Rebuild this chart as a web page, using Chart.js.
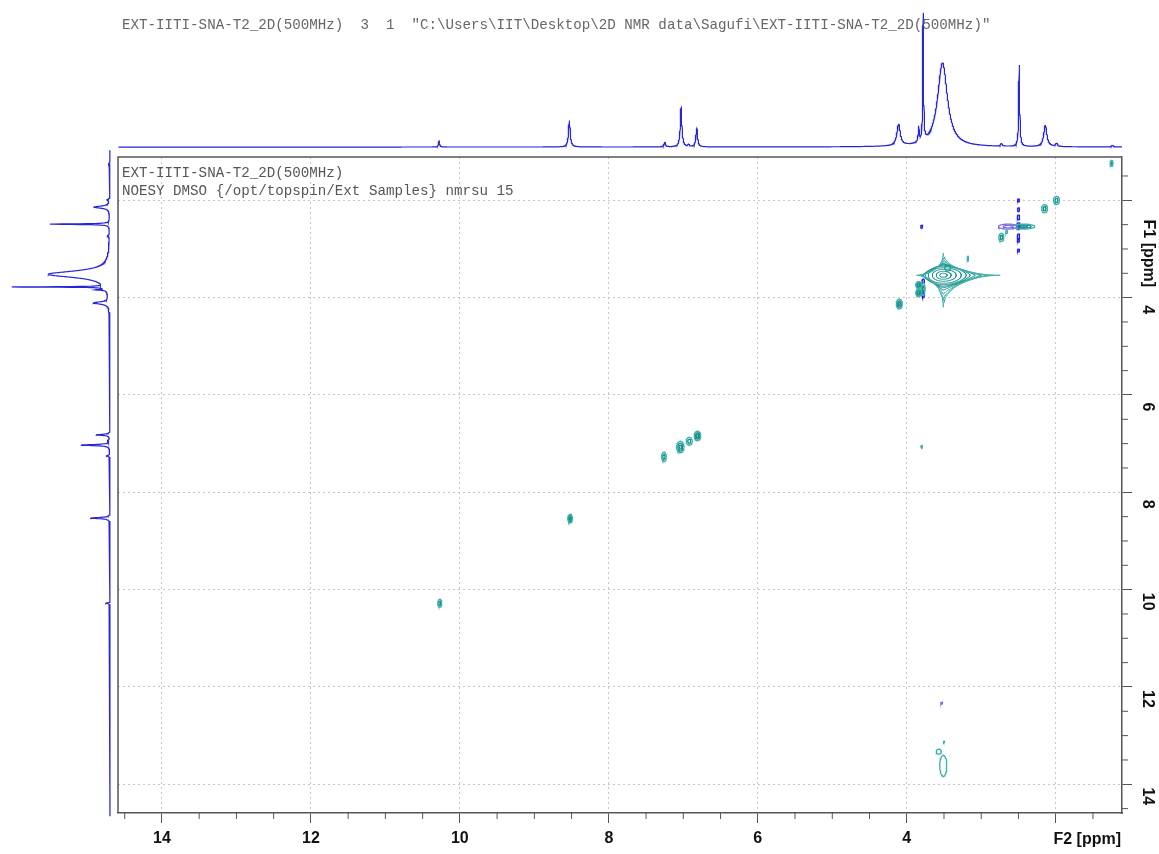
<!DOCTYPE html>
<html>
<head>
<meta charset="utf-8">
<script src="https://cdn.jsdelivr.net/npm/chart.js@4.4.1/dist/chart.umd.min.js"></script>
<style>
  body { margin: 0; background: #fff; }
  #wrap { position: relative; width: 1159px; height: 854px; overflow: hidden; }
  canvas { position: absolute; left: 0; top: 0; }
  .txt { position: absolute; font-family: "Liberation Mono", "DejaVu Sans Mono", monospace; font-size: 14.2px; white-space: pre; line-height: 18px; }
</style>
</head>
<body>
<div id="wrap">
  <canvas id="top" width="1159" height="160"></canvas>
  <canvas id="side" width="118" height="854"></canvas>
  <canvas id="main" width="1159" height="854"></canvas>
  <div class="txt" style="left:122px; top:16px; color:#666;">EXT-IITI-SNA-T2_2D(500MHz)  3  1  "C:\Users\IIT\Desktop\2D NMR data\Sagufi\EXT-IITI-SNA-T2_2D(500MHz)"</div>
  <div class="txt" style="left:122px; top:164px; color:#555;">EXT-IITI-SNA-T2_2D(500MHz)
NOESY DMSO {/opt/topspin/Ext Samples} nmrsu 15</div>
</div>
<script>
// axis range (ppm), same for F2 and F1
const axMin = 1.11;
const axMax = 14.59;
const majorStep = 2;
const minorStep = 0.5;

// 1D projection peaks: shift (ppm), height, half width (ppm)
const projShift  = [10.28, 8.53, 7.25, 7.03, 6.93, 6.82, 4.11, 3.84, 3.78, 3.52, 2.73, 2.49, 2.14, 1.99, 1.24];
const projHeight = [6, 27, 5, 40, 2.5, 19, 22, 15, 129, 86, 3, 83, 22, 3.5, 2];
const projWidth  = [0.009, 0.014, 0.012, 0.013, 0.01, 0.013, 0.027, 0.008, 0.006, 0.08, 0.012, 0.008, 0.025, 0.015, 0.01];

// 2D peaks: F2, F1, half sizes (ppm), number of contour rings, sign (1 pos, -1 neg blue, -2 neg purple)
const pkF2    = [1.25, 1.99, 2.15, 2.73, 2.66, 2.64, 2.43, 2.50, 2.50, 2.50, 2.50, 2.50, 2.50, 2.50, 3.80, 3.18, 3.45, 3.84, 3.84, 3.78, 3.78, 3.78, 4.10, 6.81, 6.92, 7.04, 7.26, 8.52, 10.27, 3.80, 3.53, 3.57, 3.51, 3.50];
const pkF1    = [1.24, 2.00, 2.17, 2.76, 2.65, 2.54, 2.54, 2.00, 2.19, 2.35, 2.53, 2.74, 2.83, 3.03, 2.54, 3.20, 3.39, 3.74, 3.90, 3.82, 3.66, 3.95, 4.13, 6.84, 6.95, 7.07, 7.27, 8.54, 10.28, 7.06, 12.33, 13.33, 13.62, 13.13];
const pkRx    = [0.020, 0.040, 0.040, 0.034, 0.013, 0.128, 0.148, 0.013, 0.013, 0.016, 0.020, 0.016, 0.013, 0.013, 0.013, 0.009, 0.040, 0.040, 0.040, 0.027, 0.016, 0.016, 0.040, 0.044, 0.040, 0.050, 0.031, 0.031, 0.027, 0.010, 0.013, 0.034, 0.047, 0.009];
const pkRy    = [0.062, 0.082, 0.082, 0.082, 0.031, 0.051, 0.051, 0.030, 0.040, 0.050, 0.070, 0.050, 0.030, 0.030, 0.031, 0.050, 0.062, 0.072, 0.072, 0.120, 0.040, 0.050, 0.100, 0.096, 0.080, 0.117, 0.096, 0.088, 0.082, 0.030, 0.020, 0.051, 0.216, 0.014];
const pkRings = [2, 2, 2, 2, 1, 2, 3, 1, 1, 1, 2, 1, 1, 1, 1, 1, 1, 3, 3, 2, 1, 1, 3, 3, 2, 3, 2, 3, 2, 1, 1, 1, 1, 1];
const pkSign  = [1, 1, 1, 1, 1, -2, 1, -1, -1, -1, -1, -1, -1, -1, -1, 1, 1, 1, 1, 1, -1, -1, 1, 1, 1, 1, 1, 1, 1, 1, -2, 1, 1, 1];

// water signal contours (outer to inner): extents in ppm and shape exponent
const waterF2 = 3.51;
const waterF1 = 3.54;
const wLeft  = [0.362, 0.336, 0.309, 0.295, 0.282, 0.268, 0.242, 0.201, 0.148, 0.094, 0.047];
const wRight = [0.765, 0.671, 0.591, 0.510, 0.430, 0.362, 0.309, 0.242, 0.174, 0.107, 0.054];
const wUp    = [0.452, 0.349, 0.287, 0.246, 0.226, 0.205, 0.185, 0.154, 0.123, 0.082, 0.041];
const wDown  = [0.657, 0.513, 0.390, 0.308, 0.257, 0.226, 0.195, 0.164, 0.123, 0.082, 0.041];
const wShape = [0.55, 0.65, 0.8, 0.95, 1.15, 1.4, 1.7, 2, 2, 2, 2];

const teal = '#3fb1ac';
const tealDark = '#17908b';
const blue = '#1c1cf0';
const purple = '#7d6ee0';
const specBlue = 'rgb(38,38,214)';

Chart.defaults.font.family = '"Liberation Sans", Arial, sans-serif';
Chart.defaults.animation = false;

function projection(lo, hi) {
  const xs = [];
  for (let v = lo; v <= hi; v += 0.002) xs.push(v);
  projShift.forEach(s => xs.push(s));
  xs.sort((a, b) => a - b);
  return xs.map(v => {
    let s = 0;
    for (let i = 0; i < projShift.length; i++) {
      const d = (v - projShift[i]) / projWidth[i];
      s += projHeight[i] / (1 + d * d);
    }
    return [v, s];
  });
}

function ellipse(c2, c1, rx, ry) {
  const pts = [];
  for (let i = 0; i <= 40; i++) {
    const t = i / 40 * 2 * Math.PI;
    pts.push({ x: c2 + rx * Math.cos(t), y: c1 + ry * Math.sin(t) });
  }
  return pts;
}

function starRing(k) {
  const pts = [];
  const e = 2 / wShape[k];
  for (let i = 0; i <= 160; i++) {
    const t = i / 160 * 2 * Math.PI;
    const c = Math.cos(t), s = Math.sin(t);
    const fx = Math.pow(Math.abs(c), e), fy = Math.pow(Math.abs(s), e);
    pts.push({
      x: c >= 0 ? waterF2 - wRight[k] * fx : waterF2 + wLeft[k] * fx,
      y: s >= 0 ? waterF1 + wDown[k] * fy : waterF1 - wUp[k] * fy
    });
  }
  return pts;
}

// ---- top projection ----
const topData = projection(axMin, axMax).map(p => ({ x: p[0], y: p[1] }));
new Chart(document.getElementById('top'), {
  type: 'scatter',
  data: { datasets: [{ data: topData, showLine: true, pointRadius: 0, borderColor: specBlue, borderWidth: 1.2 }] },
  options: {
    responsive: false, events: [],
    layout: { padding: { left: 118, right: 37, top: 0, bottom: 11 } },
    plugins: { legend: { display: false }, tooltip: { enabled: false } },
    scales: {
      x: { type: 'linear', reverse: true, min: axMin, max: axMax, display: false },
      y: { type: 'linear', min: -2, max: 150, display: false }
    }
  }
});

// ---- left projection ----
const sideData = projection(0.97, 14.66).map(p => ({ x: p[1], y: p[0] }));
new Chart(document.getElementById('side'), {
  type: 'scatter',
  data: { datasets: [{ data: sideData, showLine: true, pointRadius: 0, borderColor: specBlue, borderWidth: 1.2, clip: false }] },
  options: {
    responsive: false, events: [],
    layout: { padding: { left: 0, right: 0, top: 157, bottom: 41 } },
    plugins: { legend: { display: false }, tooltip: { enabled: false } },
    scales: {
      x: { type: 'linear', reverse: true, min: -11.2, max: 153.3, display: false },
      y: { type: 'linear', reverse: true, min: axMin, max: axMax, display: false }
    }
  }
});

// ---- 2D contour plot ----
const datasets = [];
for (let k = 0; k < wLeft.length; k++) {
  datasets.push({ data: starRing(k), showLine: true, pointRadius: 0, borderWidth: 1, borderColor: k < 3 ? teal : tealDark });
}
for (let i = 0; i < pkF2.length; i++) {
  const n = pkRings[i];
  for (let k = 0; k < n; k++) {
    const f = (n - k) / n;
    const col = pkSign[i] === -1 ? blue : pkSign[i] === -2 ? purple : (k === 0 ? teal : tealDark);
    datasets.push({ data: ellipse(pkF2[i], pkF1[i], pkRx[i] * f, pkRy[i] * f), showLine: true, pointRadius: 0, borderWidth: 1.3, borderColor: col });
  }
}

const frameAndMinor = {
  id: 'frameAndMinor',
  afterDraw(chart) {
    const { ctx, chartArea: a } = chart;
    const x = chart.scales.x, y = chart.scales.y;
    ctx.save();
    ctx.strokeStyle = '#555';
    ctx.lineWidth = 1;
    ctx.beginPath();
    for (let v = Math.ceil(axMin / minorStep) * minorStep; v <= axMax; v += minorStep) {
      if (v % majorStep === 0) continue;
      const px = x.getPixelForValue(v), py = y.getPixelForValue(v);
      ctx.moveTo(px, x.top); ctx.lineTo(px, x.top + 6);
      ctx.moveTo(y.left, py); ctx.lineTo(y.left + 6, py);
    }
    ctx.stroke();
    ctx.lineWidth = 1.5;
    ctx.beginPath();
    ctx.moveTo(a.left, a.bottom); ctx.lineTo(a.left, a.top); ctx.lineTo(a.right, a.top);
    ctx.stroke();
    // axis unit labels
    ctx.fillStyle = '#111';
    ctx.font = 'bold 16px "Liberation Sans", Arial, sans-serif';
    ctx.textBaseline = 'middle';
    ctx.textAlign = 'right';
    ctx.fillText('F2 [ppm]', x.right - 1, x.top + 27);
    ctx.translate(y.left + 26, y.getPixelForValue(3.09));
    ctx.rotate(Math.PI / 2);
    ctx.textAlign = 'center';
    ctx.fillText('F1 [ppm]', 0, 0);
    ctx.restore();
  }
};

const tickFont = { family: '"Liberation Sans", Arial, sans-serif', size: 16, weight: 'bold' };
new Chart(document.getElementById('main'), {
  type: 'scatter',
  data: { datasets },
  options: {
    responsive: false, events: [],
    layout: { padding: { left: 118, top: 157, right: 0, bottom: 0 } },
    plugins: { legend: { display: false }, tooltip: { enabled: false } },
    scales: {
      x: {
        type: 'linear', position: 'bottom', reverse: true, min: axMin, max: axMax,
        afterFit: s => { s.height = 41; },
        ticks: { stepSize: majorStep, includeBounds: false, autoSkip: false, maxRotation: 0, padding: 6, color: '#111', font: tickFont,
                 callback: v => v === 2 ? '' : String(v) },
        grid: { color: '#c6c6c6', lineWidth: 1, tickColor: '#555', tickLength: 10 },
        border: { display: true, color: '#555', width: 1.5, dash: [2, 3] }
      },
      y: {
        type: 'linear', position: 'right', reverse: true, min: axMin, max: axMax,
        afterFit: s => { s.width = 37; },
        ticks: { stepSize: majorStep, includeBounds: false, autoSkip: false, minRotation: -90, maxRotation: -90, crossAlign: 'center',
                 labelOffset: 12, padding: 7, color: '#111', font: tickFont,
                 callback: v => v === 2 ? '' : String(v) },
        grid: { color: '#c6c6c6', lineWidth: 1, tickColor: '#555', tickLength: 10 },
        border: { display: true, color: '#555', width: 1.5, dash: [2, 3] }
      }
    }
  },
  plugins: [frameAndMinor]
});
</script>
</body>
</html>
